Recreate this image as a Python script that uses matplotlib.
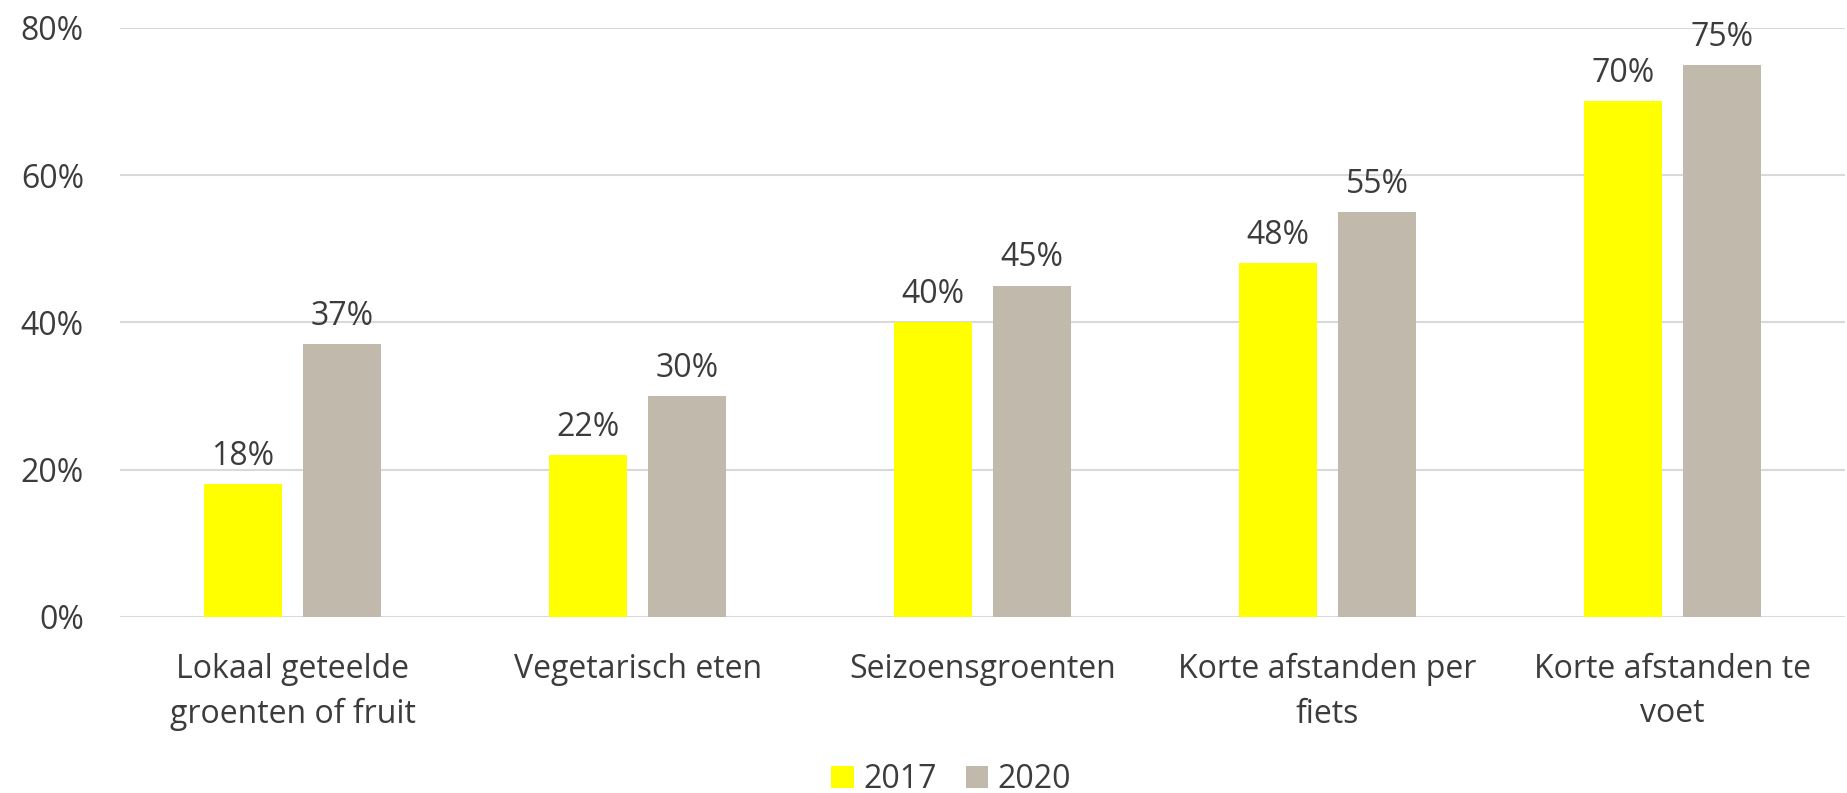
import matplotlib.pyplot as plt
import numpy as np

# Categories and percentages per survey year
categories = [
    "Lokaal geteelde\ngroenten of fruit",
    "Vegetarisch eten",
    "Seizoensgroenten",
    "Korte afstanden per\nfiets",
    "Korte afstanden te\nvoet",
]
years = ["2017", "2020"]
vals_2017 = [18, 22, 40, 48, 70]
vals_2020 = [37, 30, 45, 55, 75]

C_YEL = "#FFFF00"
C_GRY = "#C2B9AD"
C_TXT = "#3C3C3C"
C_GRID = "#D9D9D9"
FONT = "Open Sans"
FS = 23

plt.rcParams["font.family"] = [FONT, "DejaVu Sans"]

fig = plt.figure(figsize=(18.47, 7.93), dpi=100)
ax = fig.add_axes([0.065, 0.222, 0.934, 0.743])

x = np.arange(len(categories))
w = 0.226
off = 0.144
b1 = ax.bar(x - off, vals_2017, w, color=C_YEL, label=years[0], zorder=3)
b2 = ax.bar(x + off, vals_2020, w, color=C_GRY, label=years[1], zorder=3)

for bars in (b1, b2):
    for r in bars:
        v = r.get_height()
        ax.text(r.get_x() + r.get_width() / 2, v + 1.5, f"{v:.0f}%",
                ha="center", va="bottom", fontsize=FS, color=C_TXT)

ax.set_xlim(-0.5, len(categories) - 0.5)
ax.set_ylim(0, 80)
ax.set_yticks(range(0, 81, 20))
ax.set_yticklabels([f"{t}%" for t in range(0, 81, 20)])
ax.set_xticks(x)
ax.set_xticklabels(categories, linespacing=1.45)
ax.tick_params(axis="both", length=0, labelsize=FS, colors=C_TXT)
ax.tick_params(axis="x", pad=26)
ax.tick_params(axis="y", pad=26)

ax.yaxis.grid(True, color=C_GRID, lw=1.5, zorder=0)
ax.set_axisbelow(True)
for s in ax.spines.values():
    s.set_visible(False)

fig.legend(handles=[b1, b2], labels=years, loc="center", bbox_to_anchor=(0.515, 0.017),
           ncol=2, frameon=False, fontsize=FS, handlelength=0.7, handleheight=0.7,
           handletextpad=0.3, columnspacing=0.9, labelcolor=C_TXT)

fig.savefig("out.png", dpi=100, facecolor="white")
